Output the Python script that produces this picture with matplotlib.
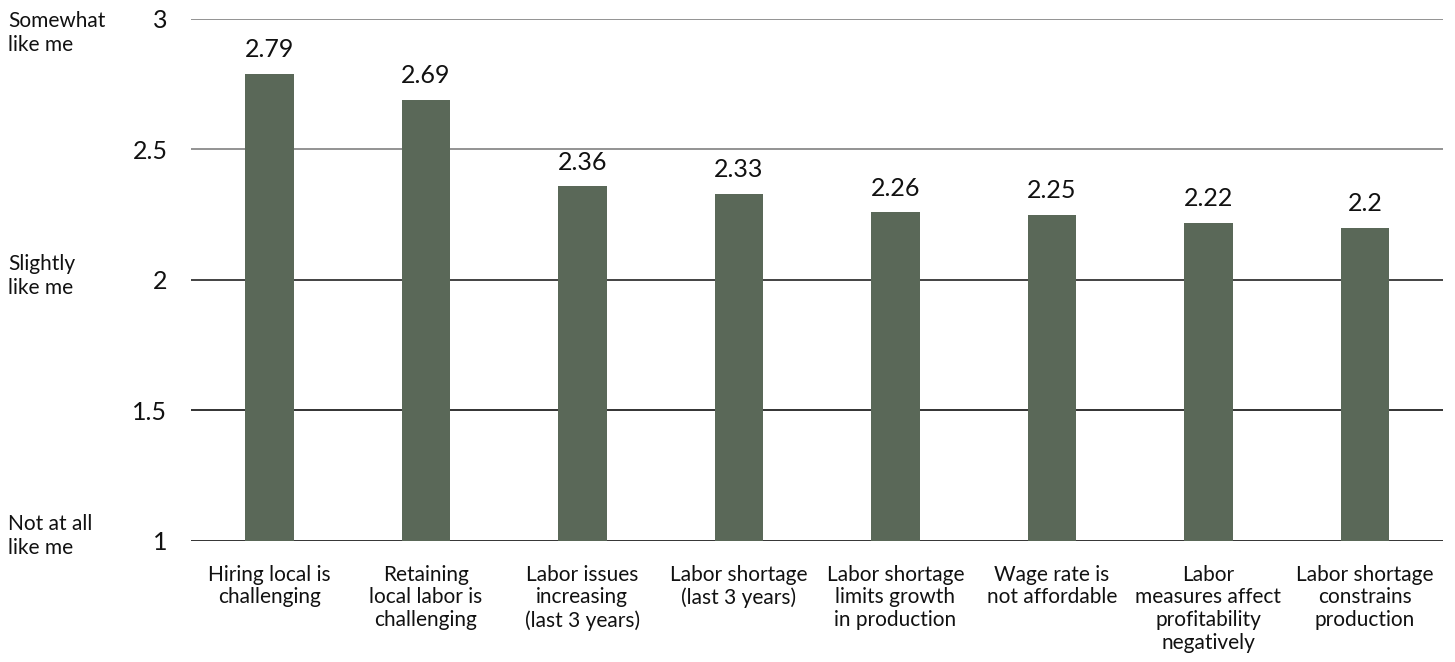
import matplotlib.pyplot as plt
import matplotlib.transforms as mtransforms

categories = ["Hiring local is\nchallenging",
              "Retaining\nlocal labor is\nchallenging",
              "Labor issues\nincreasing\n(last 3 years)",
              "Labor shortage\n(last 3 years)",
              "Labor shortage\nlimits growth\nin production",
              "Wage rate is\nnot affordable",
              "Labor\nmeasures affect\nprofitability\nnegatively",
              "Labor shortage\nconstrains\nproduction"]
scores = [2.79, 2.69, 2.36, 2.33, 2.26, 2.25, 2.22, 2.2]
score_labels = ["2.79", "2.69", "2.36", "2.33", "2.26", "2.25", "2.22", "2.2"]
y_ticks = [1, 1.5, 2, 2.5, 3]
y_tick_labels = ["1", "1.5", "2", "2.5", "3"]
scale_names = ["Not at all\nlike me", "Slightly\nlike me", "Somewhat\nlike me"]
scale_pos = [1.02, 2.015, 2.945]

plt.rcParams['font.family'] = ['Lato', 'DejaVu Sans']

fig = plt.figure(figsize=(14.55, 6.62), dpi=100)
ax = fig.add_axes([0.1313, 0.1828, 0.8605, 0.7885])

x = range(len(categories))
ax.bar(x, [s - 1 for s in scores], bottom=1, width=0.31, color="#5a6858", zorder=3)

# gridlines: the upper ones look grey, lower ones black
grid_cols = ["#111111", "#111111", "#222222", "#808080", "#808080"]
for t, c in zip(y_ticks, grid_cols):
    ax.axhline(t, color=c, lw=1.2, zorder=1)

for i, (s, lab) in enumerate(zip(scores, score_labels)):
    ax.annotate(lab, (i, s), xytext=(0, 9), textcoords="offset points",
                ha="center", va="bottom", fontsize=18, color="#111111")

ax.set_xlim(-0.5, len(categories) - 0.5)
ax.set_ylim(1, 3)
ax.set_yticks(y_ticks)
ax.set_yticklabels(y_tick_labels, fontsize=18, color="#111111")
ax.set_xticks(list(x))
ax.set_xticklabels(categories, fontsize=15, color="#111111", linespacing=1.18, va="top")
ax.tick_params(axis="both", length=0)
ax.tick_params(axis="y", pad=17)
ax.tick_params(axis="x", pad=17)
for sp in ax.spines.values():
    sp.set_visible(False)

trans = mtransforms.blended_transform_factory(fig.transFigure, ax.transData)
for name, pos in zip(scale_names, scale_pos):
    ax.text(8 / 1455, pos, name, transform=trans, ha="left", va="center",
            fontsize=15, color="#111111", linespacing=1.25)

fig.savefig("out.png", dpi=100)
